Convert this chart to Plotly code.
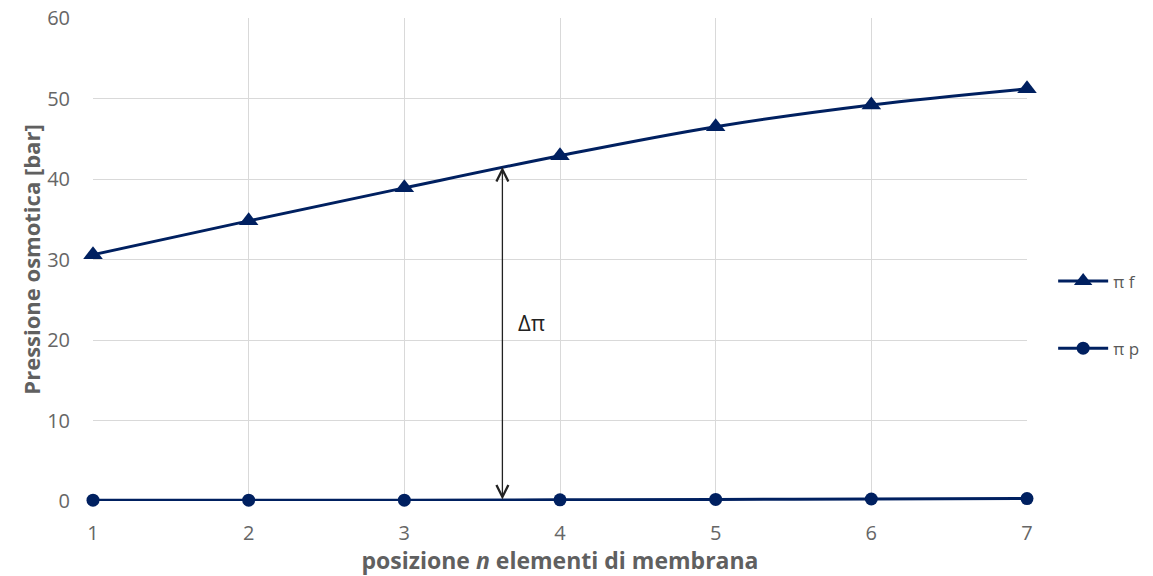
import plotly.graph_objects as go

positions = [1, 2, 3, 4, 5, 6, 7]
pi_f = [30.6, 34.8, 38.9, 42.9, 46.5, 49.2, 51.2]
pi_p = [0.1, 0.1, 0.1, 0.15, 0.2, 0.25, 0.3]
y_ticks = [0, 10, 20, 30, 40, 50, 60]

color = "#002060"
font_family = "Open Sans, Noto Sans, sans-serif"

fig = go.Figure()
fig.add_trace(go.Scatter(
    x=positions, y=pi_f, name="π f", mode="lines+markers",
    line=dict(color=color, width=3, shape="spline"),
    marker=dict(symbol="triangle-up", size=17, color=color),
    legendgroup="f", cliponaxis=False,
))
fig.add_trace(go.Scatter(
    x=positions, y=pi_p, name="π p", mode="lines+markers",
    line=dict(color=color, width=3, shape="spline"),
    marker=dict(symbol="circle", size=13, color=color),
    legendgroup="p", cliponaxis=False,
))

# Delta pi arrow
arrow_x = 3.63
arrow_top = 41.5
fig.add_annotation(
    x=arrow_x, y=arrow_top, ax=arrow_x, ay=0,
    xref="x", yref="y", axref="x", ayref="y",
    text="", showarrow=True, arrowhead=5, startarrowhead=5,
    arrowside="end+start", arrowsize=1.8, startarrowsize=1.8,
    arrowwidth=1.3, arrowcolor="#222222",
)
fig.add_annotation(
    x=3.82, y=22.2, xref="x", yref="y", text="Δπ", showarrow=False,
    font=dict(size=22, color="#222222", family=font_family),
)

fig.update_layout(
    width=1153, height=576,
    margin=dict(l=93, r=126, t=18, b=75, autoexpand=False),
    paper_bgcolor="white", plot_bgcolor="white",
    font=dict(family=font_family, color="#595959", size=15),
    showlegend=True,
    legend=dict(
        x=1.028, y=0.385, xanchor="left", yanchor="middle",
        tracegroupgap=42, font=dict(size=17, color="#595959"),
        itemwidth=50,
    ),
)
fig.update_xaxes(
    range=[1, 7], tickvals=positions, showgrid=True, gridcolor="#d9d9d9",
    gridwidth=1, zeroline=False, showline=False, ticks="", automargin=False,
    ticklabelstandoff=18, tickfont=dict(size=20, color="#666666"),
    title=dict(text="<b>posizione <i>n</i> elementi di membrana</b>",
               font=dict(size=23, color="#606060"), standoff=4),
)
fig.update_yaxes(
    range=[0, 60], tickvals=y_ticks, showgrid=True, gridcolor="#d9d9d9",
    gridwidth=1, zeroline=False, showline=False, ticks="", automargin=False,
    ticklabelstandoff=22, tickfont=dict(size=20, color="#666666"),
    title=dict(text="<b>Pressione osmotica [bar]</b>",
               font=dict(size=22, color="#606060"), standoff=0),
)

fig.write_html("out.html", config={"displayModeBar": False},
               post_script="document.body.style.margin='0';")
